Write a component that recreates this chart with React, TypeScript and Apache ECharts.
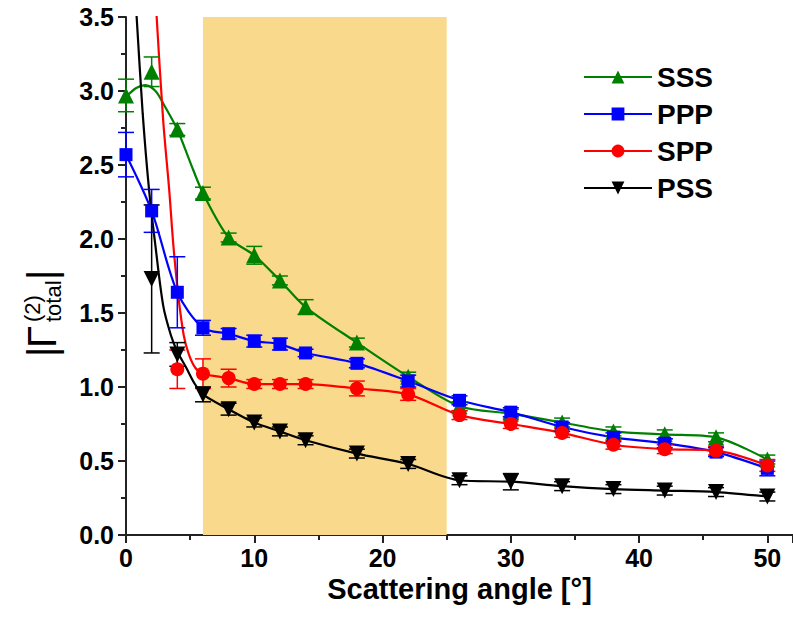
import React, { useEffect, useRef } from "react";
import * as echarts from "echarts";

// ---- data ----
const angles = [0, 2, 4, 6, 8, 10, 12, 14, 18, 22, 26, 30, 34, 38, 42, 46, 50];
const sssVal = [2.97, 3.13, 2.74, 2.31, 2.01, 1.89, 1.72, 1.54, 1.3, 1.07, 0.87, 0.82, 0.76, 0.7, 0.68, 0.66, 0.51];
const sssErr = [0.11, 0.1, 0.04, 0.04, 0.03, 0.06, 0.03, 0.05, 0.03, 0.03, 0.03, 0.03, 0.03, 0.03, 0.03, 0.03, 0.03];
const pppVal = [2.57, 2.19, 1.64, 1.4, 1.36, 1.31, 1.29, 1.23, 1.16, 1.04, 0.91, 0.83, 0.73, 0.66, 0.62, 0.56, 0.45];
const pppErr = [0.15, 0.145, 0.24, 0.05, 0.035, 0.04, 0.04, 0.025, 0.03, 0.04, 0.03, 0.03, 0.03, 0.03, 0.03, 0.03, 0.05];
const sppAngles = [4, 6, 8, 10, 12, 14, 18, 22, 26, 30, 34, 38, 42, 46, 50];
const sppVal = [1.12, 1.09, 1.06, 1.02, 1.02, 1.02, 0.99, 0.95, 0.81, 0.75, 0.69, 0.61, 0.58, 0.57, 0.47];
const sppErr = [0.13, 0.1, 0.06, 0.03, 0.03, 0.03, 0.05, 0.04, 0.03, 0.03, 0.03, 0.03, 0.03, 0.03, 0.04];
const pssAngles = [2, 4, 6, 8, 10, 12, 14, 18, 22, 26, 30, 34, 38, 42, 46, 50];
const pssVal = [1.73, 1.22, 0.95, 0.85, 0.76, 0.7, 0.64, 0.55, 0.48, 0.37, 0.36, 0.33, 0.31, 0.3, 0.29, 0.26];
const pssErr = [0.5, 0.08, 0.05, 0.04, 0.03, 0.03, 0.03, 0.03, 0.03, 0.03, 0.055, 0.03, 0.03, 0.03, 0.03, 0.03];

// fitted-curve heads (where the drawn curves leave the markers)
const sssFitHead = [[0, 2.96], [0.8, 3.02], [1.5, 3.04], [2.3, 3.0], [3, 2.9], [4, 2.74], [5, 2.52]];
const sppFitHead = [[2.2, 3.8], [2.39, 3.5], [2.9, 2.8], [3.37, 2.33], [3.7, 1.95], [4.1, 1.6], [4.5, 1.35], [4.9, 1.22], [5.4, 1.13]];
const pssFitHead = [[0.6, 3.8], [0.83, 3.5], [1.3, 2.85], [1.8, 2.33], [2.3, 1.95], [2.9, 1.55], [3.5, 1.35], [4, 1.24], [4.7, 1.13], [5.3, 1.03]];

const shadeRange = [6, 25];
const xTicks = { min: 0, max: 52, interval: 10 };
const yTicks = { min: 0, max: 3.5, interval: 0.5 };

const FONT = "'Liberation Sans', Arial, sans-serif";

const zip = (xs: number[], ys: number[]) => xs.map((x, i) => [x, ys[i]]);
const zip3 = (xs: number[], ys: number[], es: number[]) => xs.map((x, i) => [x, ys[i], es[i]]);

function errRender(color: string) {
  return (params: any, api: any) => {
    const x = api.value(0), y = api.value(1), e = api.value(2);
    const t = api.coord([x, y + e]);
    const b = api.coord([x, y - e]);
    const hw = 8;
    const st = { stroke: color, lineWidth: 1.5 };
    return {
      type: "group",
      children: [
        { type: "line", shape: { x1: t[0], y1: t[1], x2: b[0], y2: b[1] }, style: st },
        { type: "line", shape: { x1: t[0] - hw, y1: t[1], x2: t[0] + hw, y2: t[1] }, style: st },
        { type: "line", shape: { x1: b[0] - hw, y1: b[1], x2: b[0] + hw, y2: b[1] }, style: st },
      ],
    };
  };
}

type Grp = { name: string; color: string; symbol: string; rotate: number; size: number; xs: number[]; ys: number[]; es: number[]; head: number[][]; };

const groups: Grp[] = [
  { name: "SSS", color: "#008000", symbol: "triangle", rotate: 0, size: 16, xs: angles, ys: sssVal, es: sssErr, head: sssFitHead },
  { name: "PPP", color: "#0000FF", symbol: "rect", rotate: 0, size: 13, xs: angles, ys: pppVal, es: pppErr, head: [] },
  { name: "SPP", color: "#FF0000", symbol: "circle", rotate: 0, size: 14, xs: sppAngles, ys: sppVal, es: sppErr, head: sppFitHead },
  { name: "PSS", color: "#000000", symbol: "triangle", rotate: 180, size: 16, xs: pssAngles, ys: pssVal, es: pssErr, head: pssFitHead },
];

function buildSeries() {
  const series: any[] = [];
  series.push({
    type: "line",
    name: "band",
    data: [],
    markArea: {
      silent: true,
      itemStyle: { color: "#F9DA8C" },
      data: [[{ xAxis: shadeRange[0], yAxis: yTicks.min }, { xAxis: shadeRange[1], yAxis: yTicks.max }]],
    },
  });
  groups.forEach((g) => {
    const pts = zip(g.xs, g.ys);
    const lastHeadX = g.head.length ? g.head[g.head.length - 1][0] : -Infinity;
    const curve = [...g.head, ...pts.filter((p) => p[0] > lastHeadX)];
    series.push({
      type: "line",
      name: g.name,
      data: curve,
      smooth: 0.3,
      showSymbol: false,
      symbol: g.symbol,
      symbolRotate: g.rotate,
      symbolSize: g.size,
      lineStyle: { color: g.color, width: 2.2 },
      itemStyle: { color: g.color },
      z: 3,
    });
    series.push({
      type: "custom",
      name: g.name + "-err",
      data: zip3(g.xs, g.ys, g.es),
      encode: { x: 0, y: 1 },
      renderItem: errRender(g.color),
      z: 4,
    });
    series.push({
      type: "scatter",
      name: g.name + "-pts",
      data: pts,
      symbol: g.symbol,
      symbolRotate: g.rotate,
      symbolSize: g.size,
      itemStyle: { color: g.color, opacity: 1 },
      z: 5,
    });
  });
  return series;
}

export default function App() {
  const ref = useRef<HTMLDivElement>(null);
  useEffect(() => {
    const chart = echarts.init(ref.current!, null, { renderer: "svg" });
    const option: any = {
      animation: false,
      backgroundColor: "#ffffff",
      grid: { left: 126, top: 17, bottom: 92, width: 668, containLabel: false },
      legend: {
        orient: "vertical",
        left: 583,
        top: 63,
        padding: 0,
        itemWidth: 68,
        itemHeight: 16,
        itemGap: 9,
        data: groups.map((g) => g.name),
        textStyle: { fontFamily: FONT, fontWeight: "bold", fontSize: 28, color: "#000", lineHeight: 28 },
      },
      xAxis: {
        type: "value",
        min: xTicks.min,
        max: xTicks.max,
        interval: xTicks.interval,
        name: "Scattering angle [°]",
        nameLocation: "middle",
        nameGap: 30,
        nameTextStyle: { fontFamily: FONT, fontWeight: "bold", fontSize: 29, color: "#000" },
        axisLine: { show: true, lineStyle: { color: "#222", width: 2 } },
        axisTick: { show: true, inside: false, length: 8, lineStyle: { color: "#222", width: 2 } },
        minorTick: { show: true, splitNumber: 2, length: 5, lineStyle: { color: "#222", width: 2 } },
        axisLabel: { margin: 10, fontFamily: FONT, fontWeight: "bold", fontSize: 25, color: "#000", showMaxLabel: false },
        splitLine: { show: false },
      },
      yAxis: {
        type: "value",
        min: yTicks.min,
        max: yTicks.max,
        interval: yTicks.interval,
        axisLine: { show: true, lineStyle: { color: "#222", width: 2 } },
        axisTick: { show: true, inside: false, length: 8, lineStyle: { color: "#222", width: 2 } },
        minorTick: { show: true, splitNumber: 2, length: 5, lineStyle: { color: "#222", width: 2 } },
        axisLabel: { margin: 12, fontFamily: FONT, fontWeight: "bold", fontSize: 25, color: "#000", formatter: (v: number) => v.toFixed(1) },
        splitLine: { show: false },
      },
      graphic: [
        {
          type: "group",
          x: 42,
          y: 300,
          rotation: Math.PI / 2,
          children: [
            { type: "text", x: -57, y: 0, style: { text: "|", font: `40px ${FONT}`, fill: "#000", verticalAlign: "middle", align: "left" } },
            { type: "text", x: -48, y: 0, style: { text: "Γ", font: `40px ${FONT}`, fill: "#000", verticalAlign: "middle", align: "left" } },
            { type: "text", x: -22, y: -10, style: { text: "(2)", font: `22px ${FONT}`, fill: "#000", verticalAlign: "middle", align: "left" } },
            { type: "text", x: -22, y: 11, style: { text: "total", font: `22px ${FONT}`, fill: "#000", verticalAlign: "middle", align: "left" } },
            { type: "text", x: 20, y: 0, style: { text: "|", font: `40px ${FONT}`, fill: "#000", verticalAlign: "middle", align: "left" } },
          ],
        },
      ],
      series: buildSeries(),
    };
    chart.setOption(option);
    return () => chart.dispose();
  }, []);
  return <div ref={ref} style={{ position: "fixed", left: 0, top: 0, width: 793, height: 627, background: "#fff" }} />;
}
